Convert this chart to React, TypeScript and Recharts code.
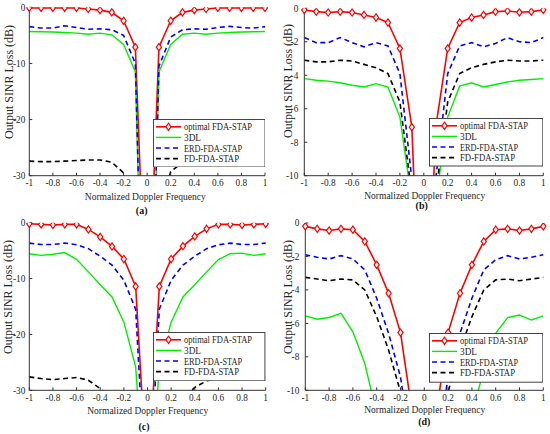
import { LineChart, Line, XAxis, YAxis, Legend } from "recharts";

const FONT = '"Liberation Serif", "Times New Roman", serif';
const AXIS = "#333333";
const TXT = "#262626";

// normalized Doppler frequency samples
const X = [-1, -0.9, -0.8, -0.7, -0.6, -0.5, -0.4, -0.3, -0.2, -0.1, 0, 0.1, 0.2, 0.3, 0.4, 0.5, 0.6, 0.7, 0.8, 0.9, 1];
const X_TICKS = [-1, -0.8, -0.6, -0.4, -0.2, 0, 0.2, 0.4, 0.6, 0.8, 1];
const Y_TICKS_30 = [-30, -20, -10, 0];
const Y_TICKS_10 = [-10, -8, -6, -4, -2, 0];

// (a)
const OPT_A = [-0.1, -0.1, -0.1, -0.1, -0.1, -0.3, -0.5, -0.9, -2.4, -7.1, -62, -7.1, -2.4, -0.9, -0.5, -0.3, -0.1, -0.1, -0.1, -0.1, -0.1];
const DL_A = [-4.3, -4.35, -4.4, -4.5, -4.6, -4.8, -4.6, -4.9, -6.6, -11.5, -90, -11.5, -6.6, -4.8, -4.6, -4.8, -4.6, -4.5, -4.4, -4.35, -4.3];
const ERD_A = [-3.45, -3.7, -3.7, -3.3, -3.6, -3.9, -3.85, -4.0, -5.0, -10, -90, -10.5, -5.3, -4.0, -3.85, -3.9, -3.6, -3.4, -3.6, -3.7, -3.45];
const FD_A = [-27.4, -27.5, -27.5, -27.4, -27.3, -27.2, -27.2, -27.6, -29.5, -36, -60, -36, -29.3, -27.6, -27.3, -27.2, -27.3, -27.4, -27.5, -27.4, -27.2];

// (b)
const OPT_B = [-0.1, -0.2, -0.25, -0.2, -0.25, -0.4, -0.55, -0.85, -2.4, -7.1, -25, -7.1, -2.4, -0.85, -0.55, -0.4, -0.2, -0.16, -0.24, -0.2, -0.1];
const DL_B = [-4.2, -4.3, -4.35, -4.45, -4.6, -4.7, -4.5, -4.7, -6.5, -11.5, -40, -11.5, -6.5, -4.65, -4.45, -4.7, -4.55, -4.4, -4.3, -4.25, -4.2];
const ERD_B = [-1.75, -2.05, -2.05, -1.75, -2.05, -2.3, -2.05, -2.25, -3.9, -10.2, -40, -10.2, -3.9, -2.25, -2.05, -2.3, -2.1, -1.75, -2.0, -2.05, -1.75];
const FD_B = [-3.1, -3.2, -3.2, -3.1, -3.15, -3.35, -3.55, -3.9, -5.6, -11.1, -40, -11.1, -5.6, -3.9, -3.55, -3.35, -3.2, -3.1, -3.15, -3.15, -3.1];

// (c)
const OPT_C = [-0.2, -0.3, -0.4, -0.3, -0.3, -1.2, -2.55, -4.25, -6.5, -11.4, -48, -11.4, -6.5, -4.2, -2.45, -1.1, -0.3, -0.3, -0.4, -0.3, -0.2];
const DL_C = [-5.55, -5.85, -5.65, -5.35, -6.55, -8.8, -11.1, -13.3, -17.8, -25.8, -56, -25.8, -17.8, -13.3, -11.1, -8.8, -6.6, -5.55, -5.45, -5.85, -5.55];
const ERD_C = [-3.65, -3.9, -3.9, -3.65, -3.95, -4.65, -6.0, -7.6, -10.3, -15.5, -54, -15.5, -10.3, -7.6, -6.0, -4.65, -3.95, -3.65, -3.9, -3.9, -3.65];
const FD_C = [-27.6, -27.9, -28.1, -27.9, -27.7, -28.2, -29.7, -31.5, -35, -40, -60, -40, -35, -31.5, -29.5, -28.3, -27.9, -27.7, -27.9, -27.8, -27.6];

// (d)
const OPT_D = [-0.2, -0.35, -0.45, -0.35, -0.4, -1.1, -2.5, -4.2, -6.55, -11.4, -48, -11.4, -6.55, -4.2, -2.5, -1.1, -0.4, -0.35, -0.45, -0.35, -0.2];
const DL_D = [-5.55, -5.75, -5.65, -5.4, -6.5, -8.4, -11.4, -13.3, -17.8, -25.8, -56, -25.8, -17.8, -13.3, -11.4, -8.8, -6.6, -5.65, -5.5, -5.8, -5.55];
const ERD_D = [-1.9, -2.05, -2.15, -1.95, -2.15, -2.8, -4.5, -6.6, -9.2, -14, -54, -14, -9.2, -6.6, -4.5, -2.8, -2.2, -1.95, -2.15, -2.05, -1.9];
const FD_D = [-3.25, -3.35, -3.45, -3.35, -3.4, -4.0, -5.6, -7.6, -10.1, -16, -60, -16, -10.1, -7.6, -5.6, -4.0, -3.4, -3.35, -3.45, -3.35, -3.25];

const SERIES = [
  { key: "opt", name: "optimal FDA-STAP", textW: 68, color: "#ff0000", width: 1.6, dash: undefined, marker: true },
  { key: "dl", name: "3DL", textW: 17, color: "#00ee00", width: 1.4, dash: undefined, marker: false },
  { key: "erd", name: "ERD-FDA-STAP", textW: 58, color: "#0000ff", width: 1.6, dash: "5 3.5", marker: false },
  { key: "fd", name: "FD-FDA-STAP", textW: 55, color: "#000000", width: 1.6, dash: "5 3.5", marker: false },
];

const PANELS = [
  {
    id: "a", left: 0, top: 0,
    margin: { top: 7.3, right: 10, bottom: 21.3, left: 0 }, yWidth: 29.3, yTickMargin: 7,
    yDomain: [-30, 0], yTicks: Y_TICKS_30,
    opt: OPT_A, dl: DL_A, erd: ERD_A, fd: FD_A,
    xLabel: { x: 145.3, y: 196 }, caption: { x: 141.7, y: 210.5 }, yLabel: { x: 8.5, y: 82 },
    legend: { left: 152.5, top: 118.5, width: 112.5, height: 48.5 },
  },
  {
    id: "b", left: 275, top: 0,
    margin: { top: 8.3, right: 6.7, bottom: 21.3, left: 0 }, yWidth: 29.3, yTickMargin: 9,
    yDomain: [-10, 0], yTicks: Y_TICKS_10,
    opt: OPT_B, dl: DL_B, erd: ERD_B, fd: FD_B,
    xLabel: { x: 149.7, y: 195.5 }, caption: { x: 146.7, y: 205.5 }, yLabel: { x: 13.3, y: 81 },
    legend: { left: 154, top: 118.3, width: 114.3, height: 48.5 },
  },
  {
    id: "c", left: 0, top: 217,
    margin: { top: 5.7, right: 9.3, bottom: 23.7, left: 0 }, yWidth: 29.3, yTickMargin: 7,
    yDomain: [-30, 0], yTicks: Y_TICKS_30,
    opt: OPT_C, dl: DL_C, erd: ERD_C, fd: FD_C,
    xLabel: { x: 147.7, y: 193 }, caption: { x: 144, y: 209.5 }, yLabel: { x: 8.3, y: 80 },
    legend: { left: 153.3, top: 115, width: 112.4, height: 49.3 },
  },
  {
    id: "d", left: 275, top: 217,
    margin: { top: 6, right: 6.7, bottom: 23.7, left: 0 }, yWidth: 30.3, yTickMargin: 9,
    yDomain: [-10, 0], yTicks: Y_TICKS_10,
    opt: OPT_D, dl: DL_D, erd: ERD_D, fd: FD_D,
    xLabel: { x: 149.7, y: 192.5 }, caption: { x: 149.3, y: 204.5 }, yLabel: { x: 13.3, y: 80 },
    legend: { left: 154, top: 116, width: 114.3, height: 49.7 },
  },
];

function Diamond(props: any) {
  const { cx, cy, index } = props;
  if (cx == null || cy == null || isNaN(cx) || isNaN(cy)) return <g key={`d${index}`} />;
  return (
    <polygon
      key={`d${index}`}
      points={`${cx},${cy - 3.6} ${cx + 2.6},${cy} ${cx},${cy + 3.6} ${cx - 2.6},${cy}`}
      fill="#ffffff"
      stroke="#ff0000"
      strokeWidth={1.2}
    />
  );
}

function LegendBox({ width, height }: { width: number; height: number }) {
  const rows = [7.8, 18.4, 29, 39.6];
  return (
    <svg width={width} height={height} style={{ display: "block", fontFamily: FONT }}>
      <rect x={0.5} y={0.5} width={width - 1} height={height - 1} fill="#ffffff" stroke="#444" strokeWidth={1} />
      {SERIES.map((s, i) => (
        <g key={s.key}>
          <line x1={3} x2={28} y1={rows[i]} y2={rows[i]} stroke={s.color} strokeWidth={s.width} strokeDasharray={s.dash} />
          {s.marker && (
            <polygon
              points={`15.5,${rows[i] - 3.6} 18.1,${rows[i]} 15.5,${rows[i] + 3.6} 12.9,${rows[i]}`}
              fill="#fff"
              stroke="#ff0000"
              strokeWidth={1.2}
            />
          )}
          <text
            x={31}
            y={rows[i]}
            dominantBaseline="central"
            fontSize={10}
            textLength={s.textW}
            lengthAdjust="spacingAndGlyphs"
            fill={TXT}
          >
            {s.name}
          </text>
        </g>
      ))}
    </svg>
  );
}

function Panel({ p }: { p: any }) {
  const rows = X.map((x, i) => ({ x, opt: p.opt[i], dl: p.dl[i], erd: p.erd[i], fd: p.fd[i] }));
  const tickStyle = { fill: TXT, fontSize: 9.3, fontFamily: FONT };
  return (
    <div style={{ position: "absolute", left: p.left, top: p.top, fontFamily: FONT }}>
      <LineChart width={275} height={217} data={rows} margin={p.margin}>
        <XAxis
          xAxisId="b"
          dataKey="x"
          type="number"
          domain={[-1, 1]}
          ticks={X_TICKS}
          interval={0}
          tickSize={-3}
          tickMargin={7}
          height={20}
          stroke={AXIS}
          tick={tickStyle}
          label={() => (
            <g>
              <text x={p.xLabel.x} y={p.xLabel.y} textAnchor="middle" dominantBaseline="central" fontSize={10.5} textLength={121} lengthAdjust="spacingAndGlyphs" fill={TXT} fontFamily={FONT}>
                Normalized Doppler Frequency
              </text>
              <text x={p.caption.x} y={p.caption.y} textAnchor="middle" dominantBaseline="central" fontSize={10} fontWeight="bold" fill="#111" fontFamily={FONT}>
                {`(${p.id})`}
              </text>
            </g>
          )}
        />
        <XAxis
          xAxisId="t"
          orientation="top"
          dataKey="x"
          type="number"
          domain={[-1, 1]}
          ticks={X_TICKS}
          interval={0}
          tickSize={-3}
          height={0}
          stroke={AXIS}
          tickFormatter={() => ""}
        />
        <YAxis
          yAxisId="l"
          type="number"
          domain={p.yDomain}
          ticks={p.yTicks}
          interval={0}
          allowDataOverflow
          tickSize={-3}
          tickMargin={p.yTickMargin}
          width={p.yWidth}
          stroke={AXIS}
          tick={tickStyle}
          label={() => (
            <text
              x={p.yLabel.x}
              y={p.yLabel.y}
              transform={`rotate(-90 ${p.yLabel.x} ${p.yLabel.y})`}
              textAnchor="middle"
              dominantBaseline="central"
              fontSize={11.5}
              textLength={114}
              lengthAdjust="spacingAndGlyphs"
              fill={TXT}
              fontFamily={FONT}
            >
              Output SINR Loss (dB)
            </text>
          )}
        />
        <YAxis
          yAxisId="r"
          orientation="right"
          type="number"
          domain={p.yDomain}
          ticks={p.yTicks}
          interval={0}
          allowDataOverflow
          tickSize={-3}
          width={0}
          stroke={AXIS}
          tickFormatter={() => ""}
        />
        {SERIES.map((s) => (
          <Line
            key={s.key}
            xAxisId="b"
            yAxisId="l"
            type="linear"
            dataKey={s.key}
            name={s.name}
            stroke={s.color}
            strokeWidth={s.width}
            strokeDasharray={s.dash}
            dot={s.marker ? Diamond : false}
            activeDot={false}
            isAnimationActive={false}
          />
        ))}
        <Legend
          layout="vertical"
          align="center"
          verticalAlign="middle"
          wrapperStyle={{ left: p.legend.left, top: p.legend.top, width: p.legend.width, height: p.legend.height }}
          content={() => <LegendBox width={p.legend.width} height={p.legend.height} />}
        />
      </LineChart>
    </div>
  );
}

export default function App() {
  return (
    <div style={{ position: "absolute", left: 0, top: 0, width: 550, height: 434, background: "#ffffff", fontFamily: FONT }}>
      {PANELS.map((p) => (
        <Panel key={p.id} p={p} />
      ))}
    </div>
  );
}
